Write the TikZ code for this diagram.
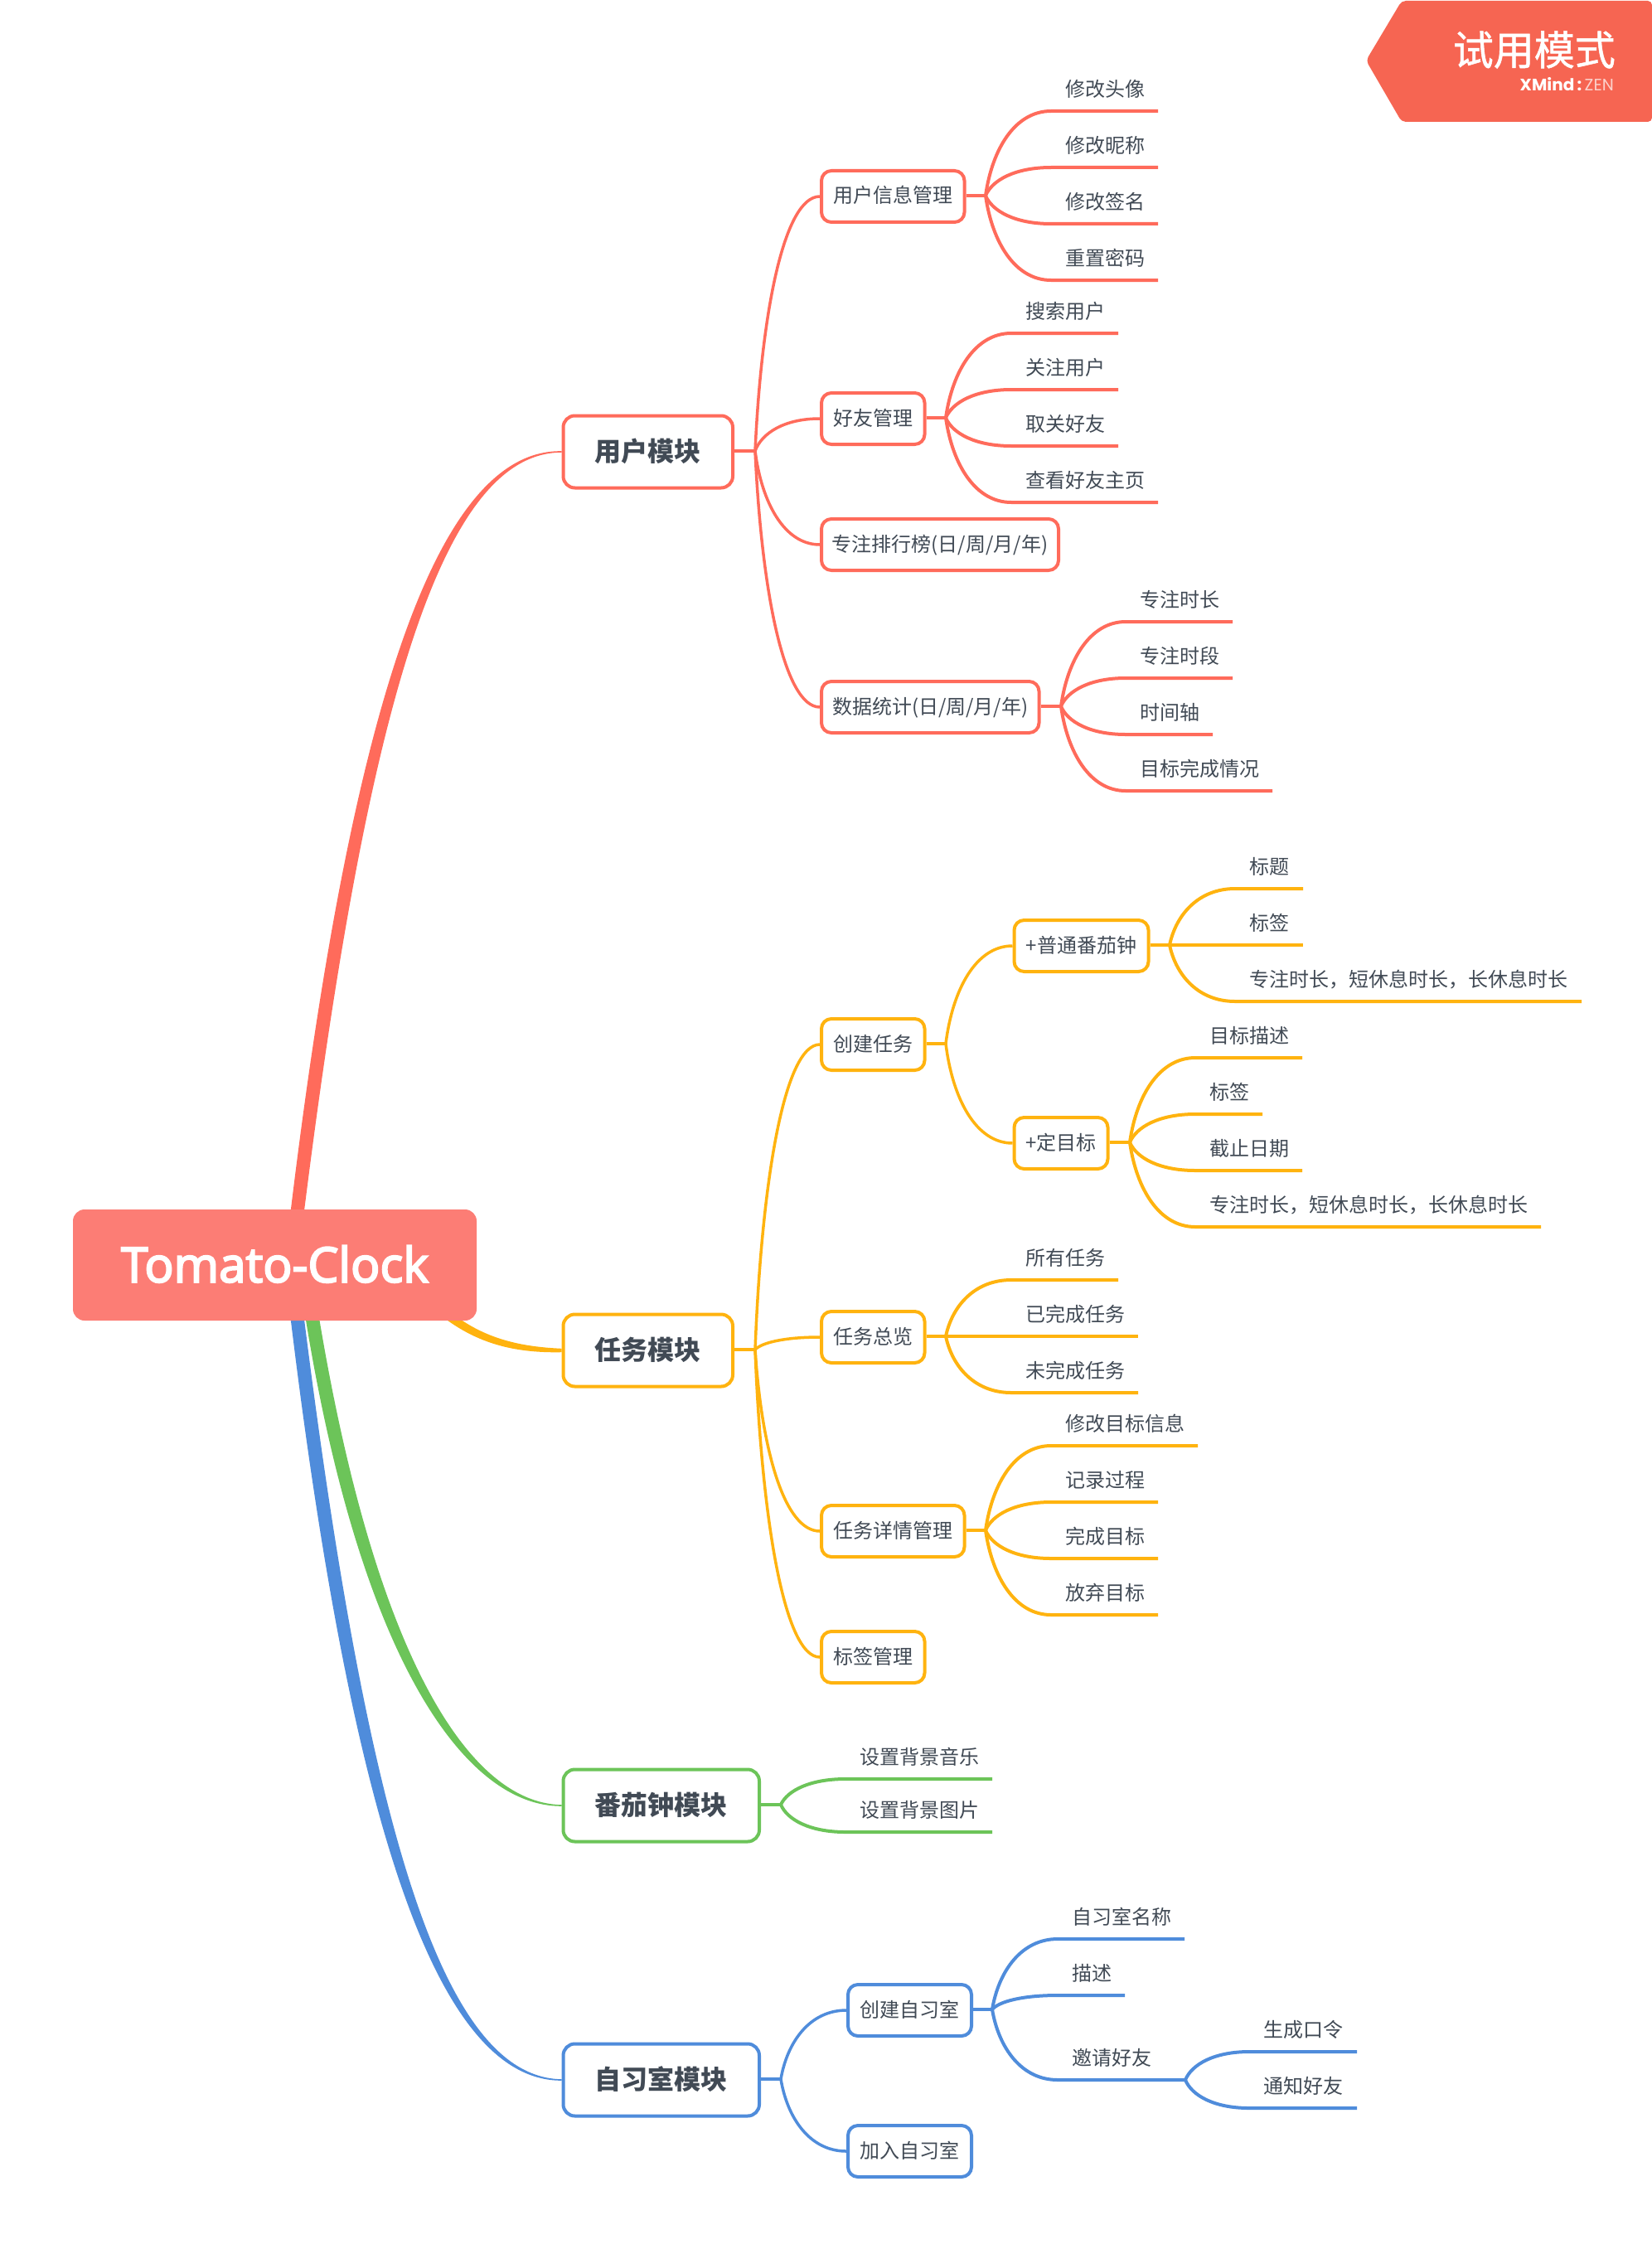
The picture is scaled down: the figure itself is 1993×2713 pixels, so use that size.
\documentclass[tikz,border=0pt]{standalone}
\usepackage{fontspec}
\setmainfont{Noto Sans CJK SC}
\newfontfamily\rootfont[FakeBold=3.5]{Open Sans}
\newfontfamily\markcjk[FakeBold=1]{Noto Sans CJK SC}
\newfontfamily\markfont{Poppins}
\usetikzlibrary{calc,backgrounds}
\definecolor{cR}{HTML}{FF6B5B}
\definecolor{cY}{HTML}{FFB30F}
\definecolor{cG}{HTML}{6CC459}
\definecolor{cB}{HTML}{4F8CDB}
\definecolor{cRoot}{HTML}{FC7D75}
\definecolor{cMark}{HTML}{F66552}
\definecolor{cText}{HTML}{414A55}
\tikzset{
  xmcurve/.style={to path={let \p1=(\tikztostart),\p2=(\tikztotarget) in
    .. controls ({\x1+0.1*(\x2-\x1)},{\y1+0.55*(\y2-\y1)}) and ({\x1+0.45*(\x2-\x1)},\y2) .. (\tikztotarget)}},
  leaftext/.style={anchor=west,inner sep=0pt,text=cText,font=\fontsize{24}{28}\selectfont,text height=21pt,text depth=5pt},
  subbox/.style={anchor=west,draw=#1,line width=4pt,fill=white,rounded corners=12pt,inner sep=0pt,minimum height=62pt,
    text=cText,font=\fontsize{24}{28}\selectfont,text height=21pt,text depth=5pt},
  modbox/.style={anchor=west,draw=#1,line width=4pt,fill=white,rounded corners=14pt,inner sep=0pt,minimum height=87pt,
    text=cText,font=\fontsize{32}{36}\selectfont\bfseries,text height=28pt,text depth=6pt},
  stub/.style={draw=#1,line width=4pt},
  branch/.style={draw=#1,line width=3.5pt},
  leafline/.style={draw=#1,line width=4pt}
}
% name, spine, text x, line y, end x, text, colour
\newcommand\leaf[7]{%
  \node[leaftext] (#1) at (#3,#4-25.7) {#6};
  \coordinate (#1e) at (#5+1,#4);
  \coordinate (#1a) at ([xshift=-17pt]#1.west |- #1e);
  \draw[leafline=#7] (#2) to[xmcurve] (#1a) -- (#1e);
}
% colour, start x,y, c1 x,y, c2 x,y, module, sign
\newcommand\taper[9]{%
  \fill[#1] (#2-8,#3) .. controls (#4-9.6,#5-#9*1.8) and (#6-2.6,#7-#9*2.1) .. ($(#8.west)+(0,-#9*0.8)$)
    -- ($(#8.west)+(0,#9*0.8)$) .. controls (#6+2.6,#7+#9*2.1) and (#4+9.6,#5+#9*1.8) .. (#2+8,#3) -- cycle;
}
\begin{document}
\begin{tikzpicture}[x=1pt,y=-1pt]
\useasboundingbox (0,0) rectangle (1993,2713);

% watermark
\fill[cMark,rounded corners=5pt] (1648,73) -- (1691,1) -- (1993,1) -- (1993,147) -- (1691,147) -- cycle;
\node[anchor=east,inner sep=0pt,text=white,font=\markcjk\fontsize{49}{54}\selectfont] (marktitle) at (1949,60) {试用模式};
\node[anchor=east,inner sep=0pt,font=\markfont\fontsize{20}{22}\selectfont] (marksub) at (1947,102) {\textcolor{white}{\textbf{XMind}\,\textbf{:}\,}\textcolor{white!70!cMark}{ZEN}};

% root
\node[fill=cRoot,rounded corners=14pt,minimum width=487pt,minimum height=134pt,inner sep=0pt,text=white,font=\rootfont\fontsize{58.5}{64}\selectfont] (root) at (331.5,1526) {\raisebox{3pt}{Tomato-Clock}};

% modules
\node[modbox=cR,minimum width=204.5pt] (mU) at (677.5,545) {用户模块};
\node[modbox=cY,minimum width=204.5pt] (mT) at (677.5,1629) {任务模块};
\node[modbox=cG,minimum width=236.5pt] (mP) at (677.5,2178) {番茄钟模块};
\node[modbox=cB,minimum width=236.5pt] (mS) at (677.5,2509) {自习室模块};

\begin{scope}[on background layer]
\taper{cR}{351}{1526}{430}{850}{530}{544}{mU}{1}
\taper{cB}{351}{1526}{430}{2202}{530}{2508}{mS}{-1}
\taper{cG}{367}{1526}{432}{1980}{557}{2177}{mP}{-1}
\fill[cY] (476,1530) .. controls (536,1604) and (590,1633) .. ($(mT.west)+(0,2.2)$) -- ($(mT.west)+(0,-2.2)$) .. controls (590,1623) and (544,1596) .. (484,1522) -- cycle;
\end{scope}

% ---------- user module
\coordinate (sU) at (911,544);
\draw[stub=cR] (mU.east |- sU) -- (sU);
\node[subbox=cR,minimum width=172.5pt] (u1) at (989,237) {用户信息管理};
\node[subbox=cR,minimum width=124.5pt] (u2) at (989,505) {好友管理};
\node[subbox=cR,minimum width=286pt] (u3) at (989,657) {专注排行榜(日/周/月/年)};
\node[subbox=cR,minimum width=262.5pt] (u4) at (989,853) {数据统计(日/周/月/年)};
\foreach \bx in {u1,u2,u3,u4} \draw[branch=cR] (sU) to[xmcurve] (\bx.west);

\coordinate (su1) at (1189,236);
\draw[stub=cR] (u1.east |- su1) -- (su1);
\leaf{u11}{su1}{1285}{134}{1396}{修改头像}{cR}
\leaf{u12}{su1}{1285}{202}{1396}{修改昵称}{cR}
\leaf{u13}{su1}{1285}{270}{1396}{修改签名}{cR}
\leaf{u14}{su1}{1285}{338}{1396}{重置密码}{cR}

\coordinate (su2) at (1141,504);
\draw[stub=cR] (u2.east |- su2) -- (su2);
\leaf{u21}{su2}{1237}{402}{1348}{搜索用户}{cR}
\leaf{u22}{su2}{1237}{470}{1348}{关注用户}{cR}
\leaf{u23}{su2}{1237}{538}{1348}{取关好友}{cR}
\leaf{u24}{su2}{1237}{606}{1396}{查看好友主页}{cR}

\coordinate (su4) at (1280,852);
\draw[stub=cR] (u4.east |- su4) -- (su4);
\leaf{u41}{su4}{1375}{750}{1486}{专注时长}{cR}
\leaf{u42}{su4}{1375}{818}{1486}{专注时段}{cR}
\leaf{u43}{su4}{1375}{886}{1462}{时间轴}{cR}
\leaf{u44}{su4}{1375}{954}{1534}{目标完成情况}{cR}

% ---------- task module
\coordinate (sT) at (911,1628);
\draw[stub=cY] (mT.east |- sT) -- (sT);
\node[subbox=cY,minimum width=124.5pt] (t1) at (989,1260) {创建任务};
\node[subbox=cY,minimum width=124.5pt] (t2) at (989,1613) {任务总览};
\node[subbox=cY,minimum width=172.5pt] (t3) at (989,1847) {任务详情管理};
\node[subbox=cY,minimum width=124.5pt] (t4) at (989,1999) {标签管理};
\foreach \bx in {t1,t2,t3,t4} \draw[branch=cY] (sT) to[xmcurve] (\bx.west);

\coordinate (st1) at (1141,1259);
\draw[stub=cY] (t1.east |- st1) -- (st1);
\node[subbox=cY,minimum width=162pt] (t11) at (1221.5,1141) {+普通番茄钟};
\node[subbox=cY,minimum width=113pt] (t12) at (1221.5,1379) {+定目标};
\foreach \bx in {t11,t12} \draw[branch=cY] (st1) to[xmcurve] (\bx.west);

\coordinate (st11) at (1411,1140);
\draw[stub=cY] (t11.east |- st11) -- (st11);
\leaf{t111}{st11}{1507}{1072}{1571}{标题}{cY}
\leaf{t112}{st11}{1507}{1140}{1571}{标签}{cY}
\leaf{t113}{st11}{1507}{1208}{1907}{专注时长，短休息时长，长休息时长}{cY}

\coordinate (st12) at (1363,1378);
\draw[stub=cY] (t12.east |- st12) -- (st12);
\leaf{t121}{st12}{1459}{1276}{1570}{目标描述}{cY}
\leaf{t122}{st12}{1459}{1344}{1522}{标签}{cY}
\leaf{t123}{st12}{1459}{1412}{1570}{截止日期}{cY}
\leaf{t124}{st12}{1459}{1480}{1858}{专注时长，短休息时长，长休息时长}{cY}

\coordinate (st2) at (1141,1612);
\draw[stub=cY] (t2.east |- st2) -- (st2);
\leaf{t21}{st2}{1237}{1544}{1348}{所有任务}{cY}
\leaf{t22}{st2}{1237}{1612}{1372}{已完成任务}{cY}
\leaf{t23}{st2}{1237}{1680}{1372}{未完成任务}{cY}

\coordinate (st3) at (1189,1846);
\draw[stub=cY] (t3.east |- st3) -- (st3);
\leaf{t31}{st3}{1285}{1744}{1444}{修改目标信息}{cY}
\leaf{t32}{st3}{1285}{1812}{1396}{记录过程}{cY}
\leaf{t33}{st3}{1285}{1880}{1396}{完成目标}{cY}
\leaf{t34}{st3}{1285}{1948}{1396}{放弃目标}{cY}

% ---------- pomodoro module
\coordinate (sP) at (942,2177);
\draw[stub=cG] (mP.east |- sP) -- (sP);
\leaf{p1}{sP}{1037}{2146}{1196}{设置背景音乐}{cG}
\leaf{p2}{sP}{1037}{2210}{1196}{设置背景图片}{cG}

% ---------- study room module
\coordinate (sS) at (942,2508);
\draw[stub=cB] (mS.east |- sS) -- (sS);
\node[subbox=cB,minimum width=149pt] (s1) at (1021,2425) {创建自习室};
\node[subbox=cB,minimum width=149pt] (s2) at (1021,2595) {加入自习室};
\foreach \bx in {s1,s2} \draw[branch=cB] (sS) to[xmcurve] (\bx.west);

\coordinate (ss1) at (1197,2424);
\draw[stub=cB] (s1.east |- ss1) -- (ss1);
\leaf{s11}{ss1}{1293}{2339}{1428}{自习室名称}{cB}
\leaf{s12}{ss1}{1293}{2407}{1356}{描述}{cB}
\leaf{s13}{ss1}{1293}{2509}{1429}{邀请好友}{cB}
\leaf{s131}{s13e}{1524}{2475}{1636}{生成口令}{cB}
\leaf{s132}{s13e}{1524}{2543}{1636}{通知好友}{cB}
\end{tikzpicture}
\end{document}
